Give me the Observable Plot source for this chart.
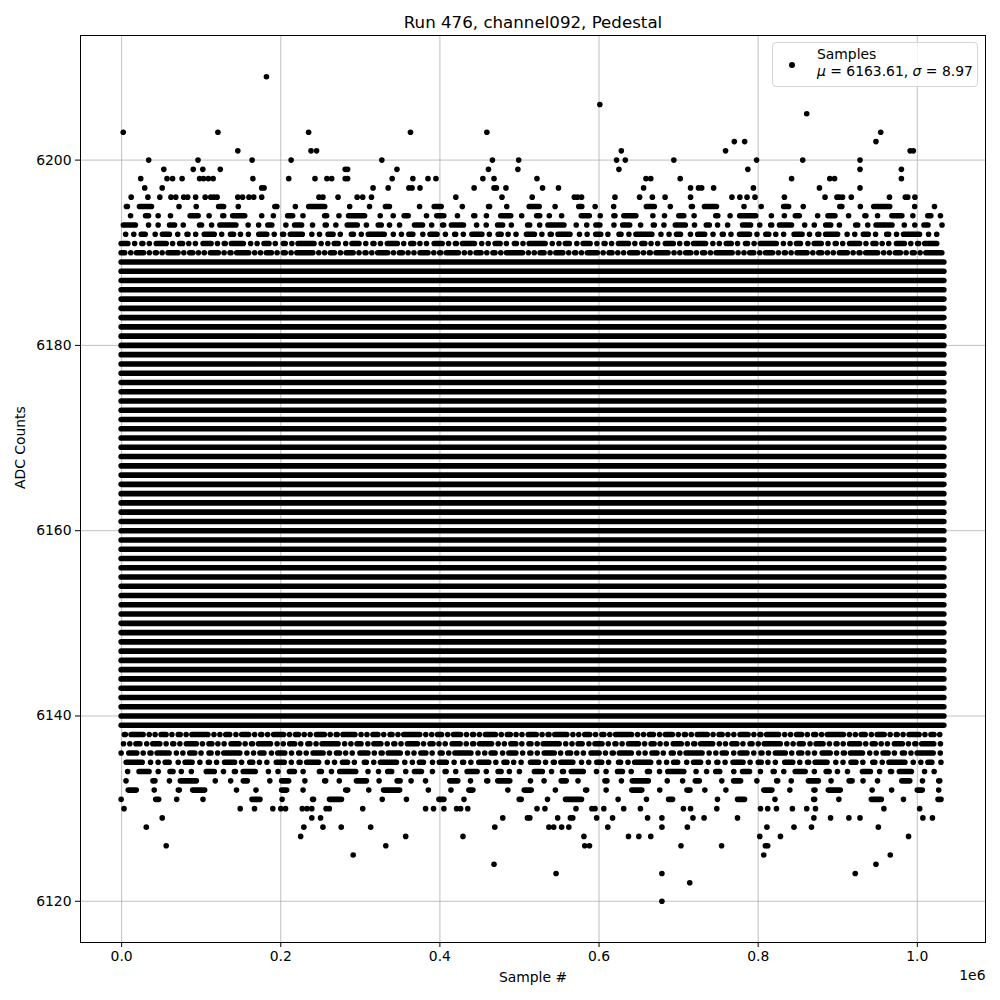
<!DOCTYPE html>
<html>
<head>
<meta charset="utf-8">
<script src="https://cdn.jsdelivr.net/npm/d3@7"></script>
<script src="https://cdn.jsdelivr.net/npm/@observablehq/plot@0.6"></script>
<style>
  body { margin: 0; background: #fff; }
  #wrap { position: relative; width: 1000px; height: 1000px; font-family: "DejaVu Sans", sans-serif; }
  .legend { position: absolute; left: 772px; top: 42px; width: 206px; height: 45px; box-sizing: border-box;
            border: 1px solid #d4d4d4; border-radius: 4px; background: rgba(255,255,255,0.8); }
  .legend .mk { position: absolute; left: 16px; top: 19px; width: 6px; height: 6px; border-radius: 50%; background: #000; }
  .legend .t1 { position: absolute; left: 44px; top: 3px; font-size: 13.9px; line-height: 17px; white-space: nowrap; }
  .legend .t2 { position: absolute; left: 44px; top: 20px; font-size: 13.9px; line-height: 17px; white-space: nowrap; }
</style>
</head>
<body>
<div id="wrap"></div>
<script>
// ---------------- data ----------------
const chartTitle = "Run 476, channel092, Pedestal";
const xLabel = "Sample #";
const yLabel = "ADC Counts";
const xOffsetText = "1e6";
const seriesName = "Samples";
const meanADC = "6163.61";
const sigmaADC = "8.97";

const sampleCount = 1034000;               // samples in the run
const xTicks = [0, 200000, 400000, 600000, 800000, 1000000];
const yTicks = [6120, 6140, 6160, 6180, 6200];

// ADC levels hit continuously throughout the run
const fullLevels = [6139, 6140, 6141, 6142, 6143, 6144, 6145, 6146, 6147, 6148, 6149,
  6150, 6151, 6152, 6153, 6154, 6155, 6156, 6157, 6158, 6159, 6160, 6161, 6162, 6163,
  6164, 6165, 6166, 6167, 6168, 6169, 6170, 6171, 6172, 6173, 6174, 6175, 6176, 6177,
  6178, 6179, 6180, 6181, 6182, 6183, 6184, 6185, 6186, 6187, 6188, 6189];

// ADC levels hit intermittently, with the estimated fraction of the run they cover
const partialLevels   = [6131, 6132, 6133, 6134, 6135, 6136, 6137, 6138, 6190, 6191, 6192, 6193, 6194, 6195];
const partialCoverage = [0.26, 0.32, 0.45, 0.62, 0.80, 0.88, 0.92, 0.96, 0.97, 0.88, 0.76, 0.62, 0.52, 0.36];

// isolated samples (sample index in thousands) per ADC level
const sparseADC = [6209, 6206, 6205, 6203, 6202, 6201, 6200, 6199, 6198, 6197, 6196,
                   6130, 6129, 6128, 6127, 6126, 6125, 6124, 6123, 6122, 6120];
const sparseSamplesK = [
  [182],
  [601],
  [861],
  [2, 121, 235, 363, 459, 954],
  [770, 783, 948],
  [146, 238, 245, 628, 759, 991, 995],
  [34, 96, 164, 213, 327, 466, 499, 622, 633, 694, 798, 856, 928],
  [53, 90, 102, 124, 281, 284, 346, 461, 498, 625, 787, 928, 980],
  [24, 57, 64, 76, 98, 103, 109, 115, 165, 210, 243, 258, 264, 281, 284, 340, 366, 385, 395, 454, 468, 522, 659, 665, 702, 842, 890, 896, 980],
  [29, 51, 176, 179, 316, 335, 361, 365, 375, 443, 468, 471, 483, 529, 549, 656, 715, 725, 729, 744, 794, 877, 928],
  [12, 33, 48, 62, 68, 78, 83, 93, 105, 112, 116, 120, 146, 152, 160, 166, 176, 248, 253, 272, 296, 303, 314, 420, 478, 516, 569, 573, 578, 620, 651, 667, 683, 715, 767, 777, 786, 796, 833, 884, 899, 902, 906, 917, 965, 985, 988, 997],
  [3, 149, 167, 190, 200, 206, 227, 233, 239, 257, 261, 303, 382, 392, 405, 421, 426, 435, 522, 532, 571, 591, 595, 606, 631, 652, 706, 715, 748, 803, 812, 823, 843, 861, 872, 958, 1003],
  [51, 239, 250, 479, 510, 513, 548, 564, 567, 597, 617, 661, 679, 718, 732, 774, 870, 891, 914, 928, 1007, 1019],
  [31, 229, 253, 276, 313, 469, 537, 543, 553, 562, 611, 679, 711, 811, 845, 867, 951],
  [225, 357, 429, 581, 637, 650, 665, 802, 828, 989],
  [56, 332, 582, 588, 703, 754, 809, 812],
  [291, 807, 966],
  [468, 948],
  [546, 679, 922],
  [714],
  [679]
];

// ---------------- build ----------------
const sparse = sparseADC.flatMap((adc, i) => sparseSamplesK[i].map(k => ({sample: k * 1000, adc})));
const lastSample = sampleCount;
const allY = [...fullLevels, ...partialLevels, ...sparseADC];
const yMin = d3.min(allY), yMax = d3.max(allY);
const yPad = (yMax - yMin) * 0.05, xPad = lastSample * 0.05;

const dotW = 5.6;
// irregular dot/dash pattern (style) reproducing a given coverage fraction
const dashLens = [0, 3, 0, 0, 8, 0, 1, 12, 0, 0, 5, 0, 2, 0, 16, 0, 0, 4, 0, 7, 0, 1, 0, 10];
const gapWts   = [1.4, 0.6, 1.0, 2.1, 0.8, 1.2, 0.5, 1.7, 0.9, 1.3, 0.7, 2.4, 1.0, 0.6, 1.5, 1.1, 0.8, 1.9, 0.7, 1.2, 1.6, 0.9, 1.3, 0.8];
function dashFor(c) {
  const visOn = d3.sum(dashLens) + dashLens.length * dotW;
  const gapTotal = visOn / c - visOn;
  const gs = d3.sum(gapWts);
  return dashLens.flatMap((l, k) => [l, gapWts[k] / gs * gapTotal + dotW]).map(v => v.toFixed(2)).join(",");
}

const gridStyle = {stroke: "#b0b0b0", strokeOpacity: 1, strokeWidth: 0.8};

const chart = Plot.plot({
  width: 1000,
  height: 1000,
  marginLeft: 80, marginRight: 15, marginTop: 35, marginBottom: 58,
  style: {fontFamily: '"DejaVu Sans", sans-serif', fontSize: "13.9px", color: "black", background: "white", overflow: "visible"},
  x: {domain: [-xPad, lastSample + xPad]},
  y: {domain: [yMin - yPad, yMax + yPad]},
  marks: [
    Plot.gridX(xTicks, gridStyle),
    Plot.gridY(yTicks, gridStyle),
    Plot.ruleY(fullLevels, {x1: 0, x2: lastSample, stroke: "black", strokeWidth: dotW, strokeLinecap: "round"}),
    ...partialLevels.map((v, i) => Plot.ruleY([v], {
      x1: 0, x2: lastSample, stroke: "black", strokeWidth: dotW, strokeLinecap: "round",
      strokeDasharray: dashFor(partialCoverage[i]), strokeDashoffset: i * 97
    })),
    Plot.dot(sparse, {x: "sample", y: "adc", r: dotW / 2, fill: "black", stroke: "none"}),
    Plot.frame({stroke: "black", strokeWidth: 1}),
    Plot.axisX(xTicks, {tickSize: 5, tickPadding: 4, tickFormat: d => (d / 1e6).toFixed(1), label: null, fontSize: 13.9}),
    Plot.axisY(yTicks, {tickSize: 5, tickPadding: 4, tickFormat: d => String(d), label: null, fontSize: 13.9}),
    Plot.text([chartTitle], {frameAnchor: "top", dy: -13, lineAnchor: "middle", fontSize: 16.67}),
    Plot.text([xLabel], {frameAnchor: "bottom", dy: 35, lineAnchor: "middle", fontSize: 13.9}),
    Plot.text([xOffsetText], {frameAnchor: "bottom-right", dy: 33, lineAnchor: "middle", textAnchor: "end", fontSize: 13.9}),
    Plot.text([yLabel], {frameAnchor: "left", dx: -60, rotate: -90, lineAnchor: "middle", fontSize: 13.9})
  ]
});

const wrap = document.getElementById("wrap");
wrap.appendChild(chart);

const lg = document.createElement("div");
lg.className = "legend";
lg.innerHTML = `<div class="mk"></div><div class="t1"></div><div class="t2"><i>μ</i> = ${meanADC}, <i>σ</i> = ${sigmaADC}</div>`;
lg.querySelector(".t1").textContent = seriesName;
wrap.appendChild(lg);
</script>
</body>
</html>
